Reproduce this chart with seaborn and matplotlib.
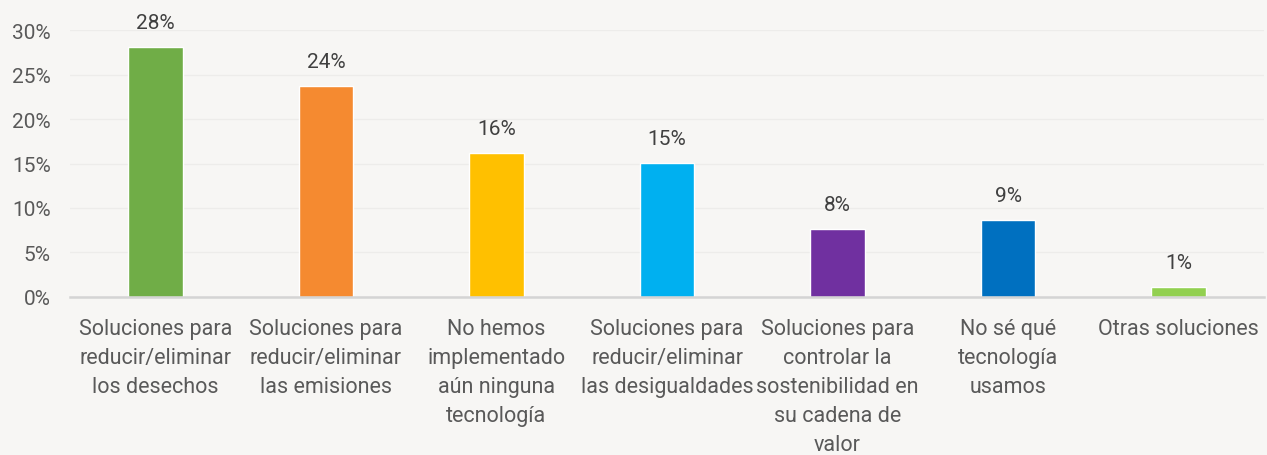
import matplotlib
matplotlib.use("Agg")
import matplotlib.pyplot as plt
import seaborn as sns
import pandas as pd
from matplotlib.ticker import FuncFormatter

categories = [
    "Soluciones para\nreducir/eliminar\nlos desechos",
    "Soluciones para\nreducir/eliminar\nlas emisiones",
    "No hemos\nimplementado\naún ninguna\ntecnología",
    "Soluciones para\nreducir/eliminar\nlas desigualdades",
    "Soluciones para\ncontrolar la\nsostenibilidad en\nsu cadena de\nvalor",
    "No sé qué\ntecnología\nusamos",
    "Otras soluciones",
]
values = [28.1, 23.7, 16.2, 15.05, 7.65, 8.65, 1.1]
value_labels = ["28%", "24%", "16%", "15%", "8%", "9%", "1%"]
colors = ["#70AD47", "#F58A30", "#FFC000", "#00B0F0", "#7030A0", "#0070C0", "#92D050"]

df = pd.DataFrame({"cat": categories, "val": values})

sns.set_style("white")
plt.rcParams["font.family"] = ["Roboto", "DejaVu Sans"]

bg = "#F7F6F4"
fig = plt.figure(figsize=(12.67, 4.56), dpi=100, facecolor=bg)
ax = fig.add_axes([0.0553, 0.3465, 0.9423, 0.5855])
ax.set_facecolor(bg)

sns.barplot(data=df, x="cat", y="val", hue="cat", palette=colors, legend=False,
            width=0.32, ax=ax, saturation=1)

ax.set_ylim(0, 30)
ax.set_xlim(-0.5, 6.5)
ax.set_yticks([0, 5, 10, 15, 20, 25, 30])
ax.yaxis.set_major_formatter(FuncFormatter(lambda v, p: f"{int(v)}%"))
ax.grid(axis="y", color="#EDECEA", linewidth=1.0)
ax.set_axisbelow(True)
for s in ["top", "right", "left"]:
    ax.spines[s].set_visible(False)
ax.spines["bottom"].set_color("#D4D4D4")
ax.spines["bottom"].set_linewidth(1.8)
ax.tick_params(axis="y", length=0, colors="#595959", labelsize=15, pad=14)
ax.tick_params(axis="x", length=0, colors="#595959", labelsize=15.5, pad=15)
ax.set_xlabel("")
ax.set_ylabel("")
for lbl in ax.get_xticklabels():
    lbl.set_linespacing(1.5)

for i, (v, t) in enumerate(zip(values, value_labels)):
    ax.annotate(t, (i, v), xytext=(0, 11), textcoords="offset points",
                ha="center", va="bottom", fontsize=15, color="#404040")

fig.savefig("out.png", dpi=100, facecolor=bg)
